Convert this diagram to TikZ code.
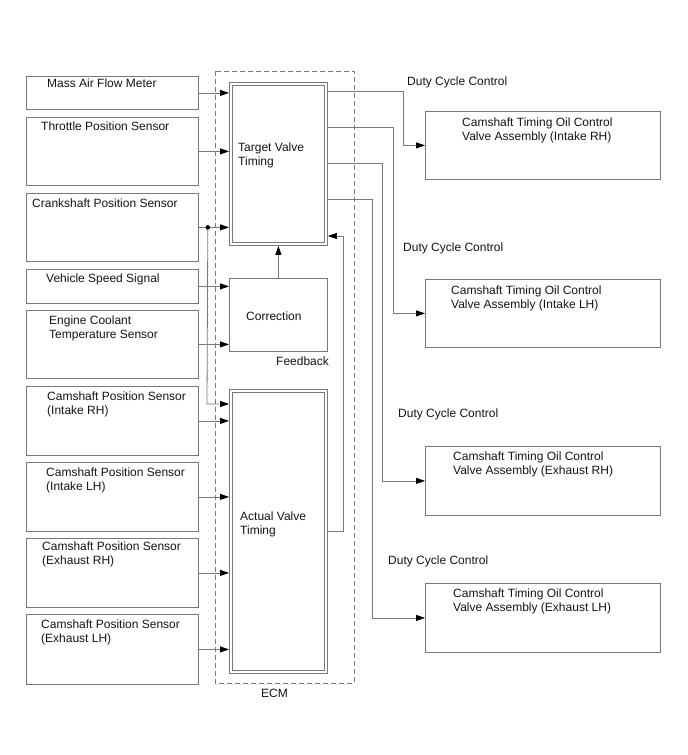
\documentclass[tikz,border=0pt]{standalone}
\usepackage{fontspec}
\setmainfont{Liberation Sans}
\usetikzlibrary{arrows.meta,calc}
\definecolor{lg}{RGB}{120,120,120}
\definecolor{tx}{RGB}{20,20,20}
\begin{document}
\begin{tikzpicture}[x=1pt,y=-1pt,
  box/.style={draw=lg, line width=0.8pt, inner sep=0pt, anchor=north west},
  ecm/.style={draw=lg, line width=0.7pt, dash pattern=on 5pt off 3pt},
  ln/.style={draw=lg, line width=0.8pt},
  arr/.style={ln, -{Triangle[length=9pt,width=6pt,color=black]}},
  txt/.style={font=\fontsize{12}{13.5}\selectfont, text=tx, inner sep=0pt, anchor=base west, align=left},
  dotst/.style={circle, fill=black, inner sep=0pt, minimum size=4.5pt}
]
\useasboundingbox (0,0) rectangle (688,755);

% ECM frame
\draw[ecm] (215,71) rectangle (354,683);
\node[txt] (ecmlbl) at (261,697.5) {ECM};

% left sensor boxes
\node[box, minimum width=172.5pt, minimum height=33pt] (maf) at (25.5,76) {};
\node[box, minimum width=172.5pt, minimum height=68pt] (tps) at (25.5,117) {};
\node[box, minimum width=172.5pt, minimum height=68pt] (crk) at (25.5,193) {};
\node[box, minimum width=172.5pt, minimum height=34pt] (vss) at (25.5,269) {};
\node[box, minimum width=172.5pt, minimum height=68pt] (ect) at (25.5,310) {};
\node[box, minimum width=172.5pt, minimum height=69pt] (cir) at (25.5,386) {};
\node[box, minimum width=172.5pt, minimum height=69pt] (cil) at (25.5,462) {};
\node[box, minimum width=172.5pt, minimum height=69pt] (cer) at (25.5,538) {};
\node[box, minimum width=172.5pt, minimum height=70pt] (cel) at (25.5,614) {};

\node[txt] (tmaf) at (47,87.5) {Mass Air Flow Meter};
\node[txt] (ttps) at (41,130.5) {Throttle Position Sensor};
\node[txt] (tcrk) at (32,207.5) {Crankshaft Position Sensor};
\node[txt] (tvss) at (46,282.5) {Vehicle Speed Signal};
\node[txt] (tect) at (49,338) {Engine Coolant\\Temperature Sensor};
\node[txt] (tcir) at (47,414) {Camshaft Position Sensor\\(Intake RH)};
\node[txt] (tcil) at (46,490) {Camshaft Position Sensor\\(Intake LH)};
\node[txt] (tcer) at (42,564) {Camshaft Position Sensor\\(Exhaust RH)};
\node[txt] (tcel) at (41,642) {Camshaft Position Sensor\\(Exhaust LH)};

% ECM internal blocks
\node[box, minimum width=98pt, minimum height=163pt] (tvt) at (229,82) {};
\draw[ln] ($(tvt.north west)+(3,3)$) rectangle ($(tvt.south east)+(-3,-3)$);
\node[box, minimum width=98pt, minimum height=73pt] (corr) at (229,278) {};
\node[box, minimum width=98pt, minimum height=284pt] (avt) at (229,389) {};
\draw[ln] ($(avt.north west)+(3,3)$) rectangle ($(avt.south east)+(-3,-3)$);

\node[txt] (ttvt) at (238,165) {Target Valve\\Timing};
\node[txt] (tcorr) at (246,320.5) {Correction};
\node[txt] (tfb) at (276,365.5) {Feedback};
\node[txt] (tavt) at (240,534) {Actual Valve\\Timing};

% right valve boxes
\node[box, minimum width=235pt, minimum height=68pt] (cv1) at (425,111) {};
\node[box, minimum width=235pt, minimum height=68pt] (cv2) at (425,279) {};
\node[box, minimum width=235pt, minimum height=69pt] (cv3) at (425,446) {};
\node[box, minimum width=235pt, minimum height=69pt] (cv4) at (425,583) {};

\node[txt] (tcv1) at (462,140) {Camshaft Timing Oil Control\\Valve Assembly (Intake RH)};
\node[txt] (tcv2) at (451,308) {Camshaft Timing Oil Control\\Valve Assembly (Intake LH)};
\node[txt] (tcv3) at (453,474) {Camshaft Timing Oil Control\\Valve Assembly (Exhaust RH)};
\node[txt] (tcv4) at (453,611) {Camshaft Timing Oil Control\\Valve Assembly (Exhaust LH)};

\node[txt] (dc1) at (407,85.5) {Duty Cycle Control};
\node[txt] (dc2) at (403,251.5) {Duty Cycle Control};
\node[txt] (dc3) at (398,417.5) {Duty Cycle Control};
\node[txt] (dc4) at (388,564.5) {Duty Cycle Control};

% inputs
\draw[arr] (maf.east) -- (maf.east -| tvt.west);
\draw[arr] (tps.east) -- (tps.east -| tvt.west);
\path (crk.east) ++(9,0) coordinate (dotc);
\draw[ln] (crk.east) -- (dotc);
\draw[arr] (dotc) -- (dotc -| tvt.west);
\coordinate (fbl) at (207,404);
\draw[arr] (dotc) -- (fbl) -- (fbl -| avt.west);
\node[dotst] (dot) at (dotc) {};
\draw[arr] (vss.east) -- (vss.east -| corr.west);
\draw[arr] (ect.east) -- (ect.east -| corr.west);
\draw[arr] (cir.east) -- (cir.east -| avt.west);
\draw[arr] (cil.east) -- (cil.east -| avt.west);
\draw[arr] (cer.east) -- (cer.east -| avt.west);
\draw[arr] (cel.east) -- (cel.east -| avt.west);

% correction to target
\draw[arr] (corr.north) -- (tvt.south);

% feedback actual -> target
\coordinate (fbr) at (343,531);
\coordinate (fbt) at (343,236);
\draw[arr] (fbr -| avt.east) -- (fbr) -- (fbt) -- (fbt -| tvt.east);

% outputs
\coordinate (k1) at (403,91);
\coordinate (k2) at (393,127);
\coordinate (k3) at (382,163);
\coordinate (k4) at (372,199);
\draw[arr] (k1 -| tvt.east) -- (k1) |- (cv1.west);
\draw[arr] (k2 -| tvt.east) -- (k2) |- (cv2.west);
\draw[arr] (k3 -| tvt.east) -- (k3) |- (cv3.west);
\draw[arr] (k4 -| tvt.east) -- (k4) |- (cv4.west);
\end{tikzpicture}
\end{document}
